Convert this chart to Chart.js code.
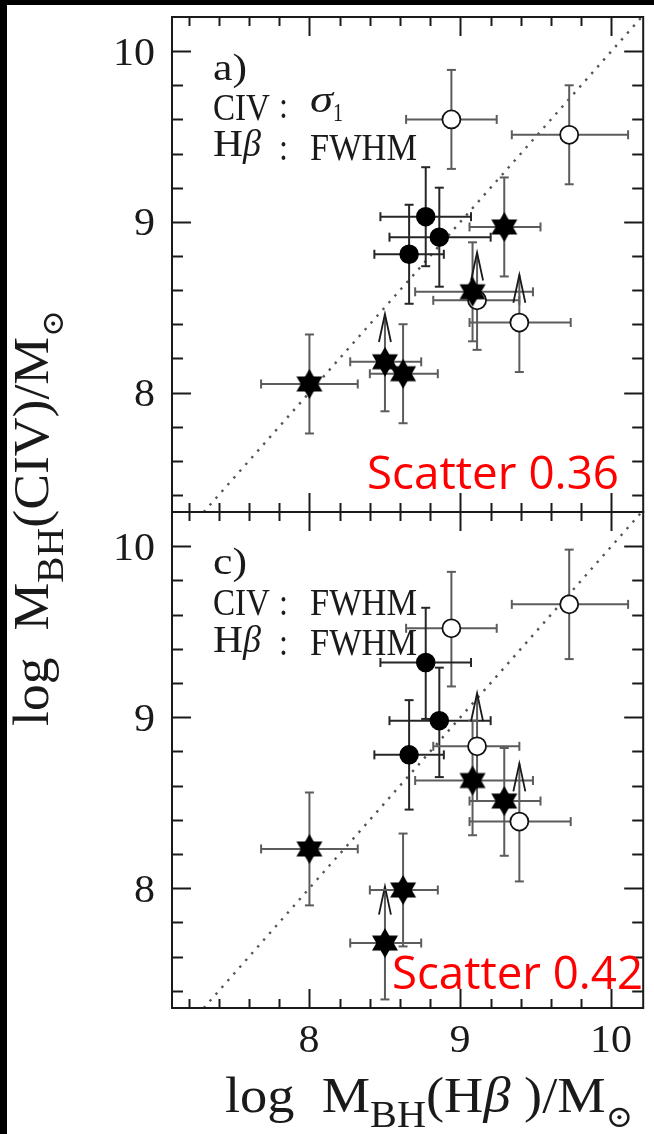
<!DOCTYPE html>
<html>
<head>
<meta charset="utf-8">
<script src="https://cdn.jsdelivr.net/npm/chart.js"></script>
<style>
  html, body { margin: 0; padding: 0; background: #fff; }
  #wrap { position: relative; width: 654px; height: 1134px; overflow: hidden; background: #fff; }
  #wrap canvas { position: absolute; left: 0; top: 0; }
  .edge { position: absolute; background: #000; }
</style>
</head>
<body>
<div id="wrap">
  <canvas id="panelA" width="654" height="1134"></canvas>
  <canvas id="panelC" width="654" height="1134"></canvas>
  <div class="edge" style="left:0;top:0;width:654px;height:5px"></div>
  <div class="edge" style="left:0;top:0;width:7px;height:1134px"></div>
</div>
<script>
// Black-hole masses from the H-beta FWHM (shared x values of both panels)
const hbetaLogM    = [8.94, 9.72, 8.77, 8.86, 8.66, 9.29, 9.08, 9.11, 9.39, 8.50, 8.62, 8.00];
const hbetaErrLow  = [0.30, 0.38, 0.30, 0.33, 0.23, 0.23, 0.38, 0.29, 0.33, 0.23, 0.22, 0.32];
const hbetaErrHigh = [0.30, 0.39, 0.30, 0.34, 0.23, 0.24, 0.40, 0.28, 0.34, 0.24, 0.23, 0.32];
const sampleKind   = ['open', 'open', 'filled', 'filled', 'filled', 'star', 'star', 'open', 'open', 'star', 'star', 'star'];

// Panel a: CIV masses from the line dispersion sigma_1
const civSigmaLogM    = [9.60, 9.51, 9.03, 8.91, 8.81, 8.97, 8.59, 8.54, 8.41, 8.18, 8.11, 8.05];
const civSigmaErrLow  = [0.29, 0.29, 0.29, 0.29, 0.29, 0.29, 0.29, 0.29, 0.29, 0.29, 0.29, 0.29];
const civSigmaErrHigh = [0.29, 0.29, 0.29, 0.29, 0.29, 0.29, 0.29, null, null, null, 0.29, 0.29];
const civSigmaLimitTip = [null, null, null, null, null, null, null, 8.82, 8.69, 8.46, null, null];

// Panel c: CIV masses from the FWHM
const civFwhmLogM    = [9.52, 9.66, 9.32, 8.98, 8.78, 8.51, 8.63, 8.83, 8.39, 7.68, 7.99, 8.23];
const civFwhmErrLow  = [0.34, 0.32, 0.33, 0.33, 0.32, 0.32, 0.32, 0.32, 0.35, 0.33, 0.33, 0.33];
const civFwhmErrHigh = [0.33, 0.32, 0.32, 0.31, 0.32, 0.31, 0.35, null, null, null, 0.33, 0.33];
const civFwhmLimitTip = [null, null, null, null, null, null, null, 9.14, 8.73, 8.01, null, null];

// Axis ticks
const majorTicks = [8, 9, 10];
const tickLabels = ['8', '9', '10'];
const xRange = [7.09, 10.21];
const yRange = [7.3, 10.2];

// Scatter annotations
const scatterA = '0.36';
const scatterC = '0.42';

const INK = '#1a1a1a';
const BAR_DARK = '#262626';
const BAR_GRAY = '#5c5c5c';
const SERIF = '"Liberation Serif", "DejaVu Serif", serif';

function hexagram(R) {
  const s = Math.ceil(2 * R + 4);
  const c = document.createElement('canvas');
  c.width = s; c.height = s;
  const g = c.getContext('2d');
  g.translate(s / 2, s / 2);
  g.fillStyle = '#000';
  for (const rot of [0, Math.PI]) {
    g.beginPath();
    for (let k = 0; k < 3; k++) {
      const a = rot - Math.PI / 2 + k * 2 * Math.PI / 3;
      g.lineTo(R * Math.cos(a), R * Math.sin(a));
    }
    g.closePath();
    g.fill();
  }
  return c;
}
const starImage = hexagram(15);

function minorSteps(from, to) {
  const out = [];
  for (let k = Math.round(from * 5); k <= Math.round(to * 5); k++) out.push(k / 5);
  return out;
}

// draw a string, optionally squeezed/stretched to a given width
function fitText(ctx, text, x, y, font, width, align) {
  ctx.save();
  ctx.font = font;
  const w = ctx.measureText(text).width;
  const s = width ? width / w : 1;
  ctx.translate(x, y);
  ctx.scale(s, 1);
  ctx.textAlign = 'left';
  ctx.textBaseline = 'alphabetic';
  const off = align === 'right' ? -w : align === 'center' ? -w / 2 : 0;
  ctx.fillText(text, off, 0);
  ctx.restore();
}

// text made of normal and subscript pieces, drawn from the origin along +x
function richText(ctx, segs, size, width) {
  const fontOf = seg => {
    const sz = seg.sub ? size * (seg.scale || 0.74) : size;
    return (seg.italic ? 'italic ' : '') + sz + 'px ' + SERIF;
  };
  let total = 0;
  for (const seg of segs) { ctx.font = fontOf(seg); total += ctx.measureText(seg.t).width; }
  const s = width ? width / total : 1;
  ctx.save();
  ctx.scale(s, 1);
  ctx.textAlign = 'left';
  ctx.textBaseline = 'alphabetic';
  let cx = 0;
  for (const seg of segs) {
    ctx.font = fontOf(seg);
    ctx.fillText(seg.t, cx, seg.sub ? size * 0.3 : 0);
    cx += ctx.measureText(seg.t).width;
  }
  ctx.restore();
}

function line(ctx, x0, y0, x1, y1) {
  ctx.beginPath(); ctx.moveTo(x0, y0); ctx.lineTo(x1, y1); ctx.stroke();
}

function drawErrorBars(chart, yVals, yLo, yHi, yTip) {
  const { ctx, scales: { x, y } } = chart;
  ctx.save();
  const cap = 4.5;
  hbetaLogM.forEach((xv, i) => {
    ctx.lineWidth = 2;
    const px = x.getPixelForValue(xv);
    const py = y.getPixelForValue(yVals[i]);
    ctx.strokeStyle = sampleKind[i] === 'filled' ? BAR_DARK : BAR_GRAY;
    const x0 = x.getPixelForValue(xv - hbetaErrLow[i]);
    const x1 = x.getPixelForValue(xv + hbetaErrHigh[i]);
    line(ctx, x0, py, x1, py);
    line(ctx, x0, py - cap, x0, py + cap);
    line(ctx, x1, py - cap, x1, py + cap);
    const yb = y.getPixelForValue(yVals[i] - yLo[i]);
    line(ctx, px, py, px, yb);
    line(ctx, px - cap, yb, px + cap, yb);
    if (yHi[i] != null) {
      const yt = y.getPixelForValue(yVals[i] + yHi[i]);
      line(ctx, px, py, px, yt);
      line(ctx, px - cap, yt, px + cap, yt);
    } else {
      const tip = y.getPixelForValue(yTip[i]);
      line(ctx, px, py, px, tip);
      ctx.strokeStyle = INK;
      ctx.lineWidth = 1.8;
      ctx.beginPath();
      ctx.moveTo(px - 6, tip + 28);
      ctx.lineTo(px, tip);
      ctx.lineTo(px + 6, tip + 28);
      ctx.stroke();
    }
  });
  ctx.restore();
}

function drawOneToOne(chart) {
  const { ctx, chartArea: a, scales: { x, y } } = chart;
  const lo = Math.max(xRange[0], yRange[0]);
  const hi = Math.min(xRange[1], yRange[1]);
  ctx.save();
  ctx.beginPath();
  ctx.rect(a.left, a.top, a.right - a.left, a.bottom - a.top);
  ctx.clip();
  ctx.strokeStyle = '#555555';
  ctx.lineWidth = 2.4;
  ctx.setLineDash([2.4, 6.6]);
  line(ctx, x.getPixelForValue(lo), y.getPixelForValue(lo), x.getPixelForValue(hi), y.getPixelForValue(hi));
  ctx.restore();
}

function drawFrame(chart, withXLabels) {
  const { ctx, chartArea: a, scales: { x, y } } = chart;
  ctx.save();
  ctx.strokeStyle = INK;
  ctx.lineWidth = 2;
  ctx.strokeRect(a.left, a.top, a.right - a.left, a.bottom - a.top);
  for (const v of minorSteps(7.2, 10.0)) {
    const px = Math.round(x.getPixelForValue(v)) + 0.5;
    const len = majorTicks.includes(v) ? 19 : 9;
    line(ctx, px, a.top, px, a.top + len);
    line(ctx, px, a.bottom, px, a.bottom - len);
  }
  for (const v of minorSteps(7.4, 10.0)) {
    const py = Math.round(y.getPixelForValue(v)) + 0.5;
    const len = majorTicks.includes(v) ? 19 : 11;
    line(ctx, a.left, py, a.left + len, py);
    line(ctx, a.right, py, a.right - len, py);
  }
  ctx.fillStyle = INK;
  majorTicks.forEach((v, i) => {
    fitText(ctx, tickLabels[i], 155, y.getPixelForValue(v) + 13.5, '40px ' + SERIF, tickLabels[i].length * 21, 'right');
  });
  if (withXLabels) {
    majorTicks.forEach((v, i) => {
      fitText(ctx, tickLabels[i], x.getPixelForValue(v) - 0.5, 1052, '40px ' + SERIF, tickLabels[i].length * 21, 'center');
    });
  }
  ctx.restore();
}

function drawPanelText(ctx, top, panel) {
  ctx.save();
  ctx.fillStyle = INK;
  const f = '38px ' + SERIF;
  if (panel === 'a') {
    fitText(ctx, 'a)', 213, top + 63, f, 34);
    fitText(ctx, 'CIV', 213, top + 103, f, 57);
    fitText(ctx, ':', 279, top + 101, f, 9);
    fitText(ctx, 'σ', 310, top + 95, 'italic 38px ' + SERIF, 23);
    fitText(ctx, '1', 333, top + 104, '26px ' + SERIF, 10);
    fitText(ctx, 'H', 213, top + 139, f, 30);
    fitText(ctx, 'β', 243, top + 139, 'italic 38px ' + SERIF, 18);
    fitText(ctx, ':', 279, top + 143, f, 9);
    fitText(ctx, 'FWHM', 310, top + 143, f, 107);
  } else {
    fitText(ctx, 'c)', 213, top + 62, f, 34);
    fitText(ctx, 'CIV', 213, top + 103, f, 57);
    fitText(ctx, ':', 279, top + 103, f, 9);
    fitText(ctx, 'FWHM', 310, top + 103, f, 107);
    fitText(ctx, 'H', 213, top + 140, f, 30);
    fitText(ctx, 'β', 243, top + 140, 'italic 38px ' + SERIF, 18);
    fitText(ctx, ':', 279, top + 143, f, 9);
    fitText(ctx, 'FWHM', 310, top + 143, f, 107);
  }
  ctx.restore();
}

function drawAxisTitles(ctx) {
  ctx.save();
  ctx.fillStyle = INK;
  // x title
  ctx.save();
  ctx.translate(225, 1112);
  richText(ctx, [
    { t: 'log  M' }, { t: 'BH', sub: true }, { t: '(H' }, { t: 'β', italic: true },
    { t: ' )/M' }, { t: '⊙', sub: true, scale: 0.6 }
  ], 51, 408);
  ctx.restore();
  // y title
  ctx.save();
  ctx.translate(48, 726);
  ctx.rotate(-Math.PI / 2);
  richText(ctx, [
    { t: 'log  M' }, { t: 'BH', sub: true }, { t: '(CIV)/M' }, { t: '⊙', sub: true, scale: 0.6 }
  ], 51, 416);
  ctx.restore();
  ctx.restore();
}

function makePanel(id, yVals, yLo, yHi, yTip, padding, panel, scatterText, scatterBox) {
  const pick = kind => hbetaLogM
    .map((xv, i) => (sampleKind[i] === kind ? { x: xv, y: yVals[i] } : null))
    .filter(Boolean);

  const decorations = {
    id: 'decorations' + panel,
    beforeDatasetsDraw(chart) {
      drawOneToOne(chart);
      drawErrorBars(chart, yVals, yLo, yHi, yTip);
    },
    afterDatasetsDraw(chart) {
      const { ctx, chartArea: a } = chart;
      drawFrame(chart, panel === 'c');
      drawPanelText(ctx, a.top, panel);
      ctx.save();
      ctx.fillStyle = '#ff0000';
      fitText(ctx, 'Scatter ' + scatterText, scatterBox[0], scatterBox[1], '46px "Open Sans", "Liberation Sans", sans-serif', scatterBox[2]);
      ctx.restore();
      if (panel === 'c') drawAxisTitles(ctx);
    }
  };

  return new Chart(document.getElementById(id), {
    type: 'scatter',
    data: {
      datasets: [
        { label: 'star', data: pick('star'), pointStyle: starImage, order: 1 },
        { label: 'filled', data: pick('filled'), pointStyle: 'circle', pointRadius: 9,
          backgroundColor: '#000', borderColor: '#000', borderWidth: 1.5, order: 2 },
        { label: 'open', data: pick('open'), pointStyle: 'circle', pointRadius: 9,
          backgroundColor: '#fff', borderColor: '#111', borderWidth: 1.8, order: 3 }
      ]
    },
    options: {
      responsive: false,
      animation: false,
      devicePixelRatio: 1,
      events: [],
      layout: { padding },
      scales: {
        x: { type: 'linear', min: xRange[0], max: xRange[1], display: false },
        y: { type: 'linear', min: yRange[0], max: yRange[1], display: false }
      },
      plugins: { legend: { display: false }, tooltip: { enabled: false } }
    },
    plugins: [decorations]
  });
}

makePanel('panelA', civSigmaLogM, civSigmaErrLow, civSigmaErrHigh, civSigmaLimitTip,
  { left: 172, top: 17, right: 3, bottom: 622 }, 'a', scatterA, [367, 489, 252]);
makePanel('panelC', civFwhmLogM, civFwhmErrLow, civFwhmErrHigh, civFwhmLimitTip,
  { left: 172, top: 512, right: 3, bottom: 126 }, 'c', scatterC, [392, 989, 251]);
</script>
</body>
</html>
